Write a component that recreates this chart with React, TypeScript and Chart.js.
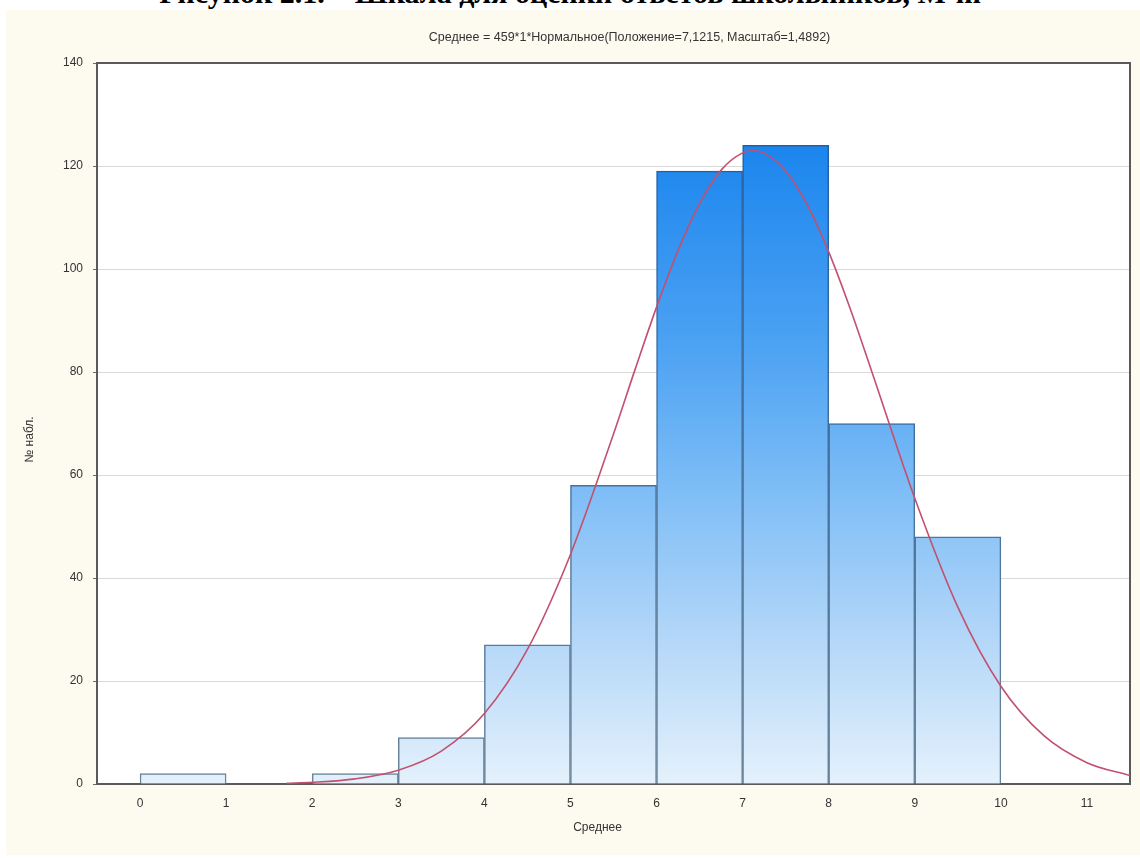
import React, { useEffect, useRef } from "react";
import { Chart, registerables } from "chart.js";

Chart.register(...registerables);

// ---- data ----
const binStarts = [0, 2, 3, 4, 5, 6, 7, 8, 9];
const binCounts = [2, 2, 9, 27, 58, 119, 124, 70, 48];
const curveX = [1.7, 2, 2.5, 3, 3.5, 4, 4.5, 5, 5.5, 5.75, 6, 6.25, 6.5, 6.75, 7, 7.12, 7.25, 7.5, 7.75, 8, 8.25, 8.5, 9, 9.5, 10, 10.5, 11, 11.5];
const curveY = [0.16, 0.33, 1.0, 2.67, 6.39, 13.67, 26.12, 44.57, 67.97, 80.46, 92.6, 103.61, 112.71, 119.2, 122.55, 122.96, 122.5, 119.05, 112.48, 103.32, 92.28, 80.11, 55.49, 34.35, 18.99, 9.38, 4.14, 1.63];
const xTickValues = [0, 1, 2, 3, 4, 5, 6, 7, 8, 9, 10, 11];
const yTickValues = [0, 20, 40, 60, 80, 100, 120, 140];

const HEADING = "Рисунок 2.1. – Шкала для оценки ответов школьников, М-m";
const TITLE = "Среднее = 459*1*Нормальное(Положение=7,1215, Масштаб=1,4892)";
const X_TITLE = "Среднее";
const Y_TITLE = "№ набл.";

const CANVAS_W = 1134;
const CANVAS_H = 845;
const FONT = '"Liberation Sans", Arial, sans-serif';

function barFill(ctx: any) {
  const chart = ctx.chart;
  const area = chart.chartArea;
  if (!area) return "#5aaaf5";
  const g = chart.ctx.createLinearGradient(0, area.top, 0, area.bottom);
  g.addColorStop(0, "#0c76ea");
  g.addColorStop(0.12, "#1c86ee");
  g.addColorStop(0.4, "#4ea3f3");
  g.addColorStop(0.6, "#80bef6");
  g.addColorStop(0.8, "#b4d7f8");
  g.addColorStop(1, "#e4f1fc");
  return g;
}

function barBorder(ctx: any) {
  const chart = ctx.chart;
  const area = chart.chartArea;
  if (!area) return "#3a6a96";
  const g = chart.ctx.createLinearGradient(0, area.top, 0, area.bottom);
  g.addColorStop(0, "#1a5aa8");
  g.addColorStop(0.5, "#3d6e9e");
  g.addColorStop(1, "#6a8399");
  return g;
}

const textPlugin = {
  id: "texts",
  beforeDraw(chart: any) {
    const { ctx, chartArea } = chart;
    ctx.save();
    ctx.fillStyle = "#ffffff";
    ctx.fillRect(chartArea.left, chartArea.top, chartArea.right - chartArea.left, chartArea.bottom - chartArea.top);
    ctx.restore();
  },
  afterDraw(chart: any) {
    const { ctx, chartArea } = chart;
    ctx.save();
    ctx.fillStyle = "#333333";
    ctx.font = "12.5px " + FONT;
    ctx.textAlign = "center";
    ctx.textBaseline = "middle";
    ctx.fillText(TITLE, (chartArea.left + chartArea.right) / 2 + 16, 28);
    ctx.font = "12px " + FONT;
    ctx.fillText(X_TITLE, (chartArea.left + chartArea.right) / 2 - 16, chartArea.bottom + 44);
    ctx.translate(24, (chartArea.top + chartArea.bottom) / 2 + 16);
    ctx.rotate(-Math.PI / 2);
    ctx.fillText(Y_TITLE, 0, 0);
    ctx.restore();
  },
};

export default function App() {
  const ref = useRef<HTMLCanvasElement | null>(null);

  useEffect(() => {
    if (!ref.current) return;
    const chart = new Chart(ref.current, {
      type: "bar",
      data: {
        datasets: [
          {
            type: "line",
            label: "curve",
            data: curveX.map((x, i) => ({ x, y: curveY[i] })),
            borderColor: "#c2506f",
            borderWidth: 1.6,
            pointRadius: 0,
            cubicInterpolationMode: "monotone",
            fill: false,
            order: 0,
          } as any,
          {
            type: "bar",
            label: "counts",
            data: binStarts.map((s, i) => ({ x: s + 0.5, y: binCounts[i] })),
            backgroundColor: barFill,
            borderColor: barBorder,
            borderWidth: 1.5,
            barPercentage: 1,
            categoryPercentage: 1,
            order: 1,
          } as any,
        ],
      },
      options: {
        responsive: false,
        animation: false,
        events: [],
        layout: { padding: { top: 53, right: 10, left: 0, bottom: 0 } },
        plugins: {
          legend: { display: false },
          title: { display: false },
          tooltip: { enabled: false },
        },
        scales: {
          x: {
            type: "linear",
            position: "bottom",
            min: -0.5,
            max: 11.5,
            offset: false,
            z: 1,
            afterBuildTicks: (scale: any) => {
              scale.ticks = xTickValues.map((v) => ({ value: v }));
            },
            afterFit: (scale: any) => {
              scale.height = CANVAS_H - 774;
            },
            ticks: {
              callback: (v: any) => String(v),
              color: "#333333",
              font: { family: FONT, size: 12 },
              padding: 12,
              maxRotation: 0,
              autoSkip: false,
            },
            grid: { display: true, drawOnChartArea: false, drawTicks: false },
            border: { display: true, color: "#5a5a5a", width: 2 },
          },
          xTop: {
            type: "linear",
            position: "top",
            min: -0.5,
            max: 11.5,
            z: 1,
            afterFit: (scale: any) => {
              scale.height = 0;
            },
            ticks: { display: false },
            grid: { display: true, drawOnChartArea: false, drawTicks: false },
            border: { display: true, color: "#5a5a5a", width: 2 },
          },
          y: {
            type: "linear",
            position: "left",
            min: 0,
            max: 140,
            afterBuildTicks: (scale: any) => {
              scale.ticks = yTickValues.map((v) => ({ value: v }));
            },
            afterFit: (scale: any) => {
              scale.width = 91;
            },
            ticks: {
              callback: (v: any) => String(v),
              color: "#333333",
              font: { family: FONT, size: 12 },
              padding: 10,
            },
            grid: {
              color: (c: any) => (c.tick && (c.tick.value === 0 || c.tick.value === 140) ? "rgba(0,0,0,0)" : "#d9d9d9"),
              tickColor: "#6a6a6a",
              tickLength: 4,
              lineWidth: 1,
            },
            border: { display: true, color: "#5a5a5a", width: 2 },
          },
          yRight: {
            type: "linear",
            position: "right",
            min: 0,
            max: 140,
            z: 1,
            afterFit: (scale: any) => {
              scale.width = 0;
            },
            ticks: { display: false },
            grid: { display: true, drawOnChartArea: false, drawTicks: false },
            border: { display: true, color: "#5a5a5a", width: 2 },
          },
        },
      } as any,
      plugins: [textPlugin],
    });
    return () => chart.destroy();
  }, []);

  return (
    <div
      style={{
        position: "absolute",
        left: 0,
        top: 0,
        width: 1140,
        height: 858,
        overflow: "hidden",
        background: "#ffffff",
      }}
    >
      <div
        style={{
          position: "absolute",
          left: 0,
          top: -22,
          width: 1140,
          textAlign: "center",
          fontFamily: '"Liberation Serif", "Times New Roman", serif',
          fontWeight: "bold",
          fontSize: 30,
          lineHeight: "30px",
          color: "#000",
          whiteSpace: "nowrap",
        }}
      >
        {HEADING}
      </div>
      <div
        style={{
          position: "absolute",
          left: 6,
          top: 10,
          width: CANVAS_W,
          height: CANVAS_H,
          background: "#fdfaf0",
        }}
      >
        <canvas ref={ref} width={CANVAS_W} height={CANVAS_H} style={{ display: "block", width: CANVAS_W, height: CANVAS_H }} />
      </div>
    </div>
  );
}
